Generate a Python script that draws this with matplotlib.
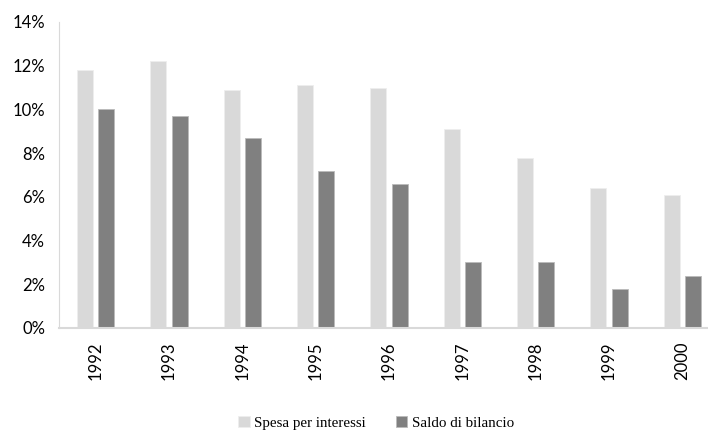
import matplotlib.pyplot as plt
import numpy as np
from matplotlib.ticker import FuncFormatter

years = ['1992', '1993', '1994', '1995', '1996', '1997', '1998', '1999', '2000']
spesa = [11.8, 12.2, 10.9, 11.1, 11.0, 9.1, 7.8, 6.4, 6.1]
saldo = [10.0, 9.7, 8.7, 7.2, 6.6, 3.0, 3.0, 1.8, 2.4]

light = '#d9d9d9'
dark = '#808080'

fig = plt.figure(figsize=(7.08, 4.37), dpi=100)
# chart is cropped on the right in the original, so axes run past the edge
ax = fig.add_axes([59 / 708, 109 / 437, 660 / 708, 306 / 437])

x = np.arange(len(years))
w = 0.22
ax.bar(x - 0.145, spesa, w, color=light, edgecolor='#eeeeee', linewidth=0.6, label='Spesa per interessi')
ax.bar(x + 0.145, saldo, w, color=dark, edgecolor='#bbbbbb', linewidth=0.6, label='Saldo di bilancio')

ax.set_xlim(-0.5, len(years) - 0.5)
ax.set_ylim(0, 14)
ax.set_yticks(range(0, 15, 2))
ax.yaxis.set_major_formatter(FuncFormatter(lambda v, p: f'{v:.0f}%'))
ax.set_xticks(x)
ax.set_xticklabels(years, rotation=90, fontsize=12, family='Lato')
for t in ax.get_yticklabels():
    t.set_family('Lato')
    t.set_fontsize(12)
ax.tick_params(axis='both', length=0)
ax.tick_params(axis='x', pad=10)
ax.tick_params(axis='y', pad=10)

for s in ['top', 'right']:
    ax.spines[s].set_visible(False)
ax.spines['left'].set_color(light)
ax.spines['bottom'].set_color(light)
ax.spines['bottom'].set_linewidth(1.5)

fig.legend(loc='center', bbox_to_anchor=(376 / 708, 14 / 437), ncol=2, frameon=False,
           prop={'family': 'Liberation Serif', 'size': 10.8}, handlelength=0.75,
           handleheight=0.75, handletextpad=0.3, columnspacing=2.0)

fig.savefig('out.png', dpi=100)
